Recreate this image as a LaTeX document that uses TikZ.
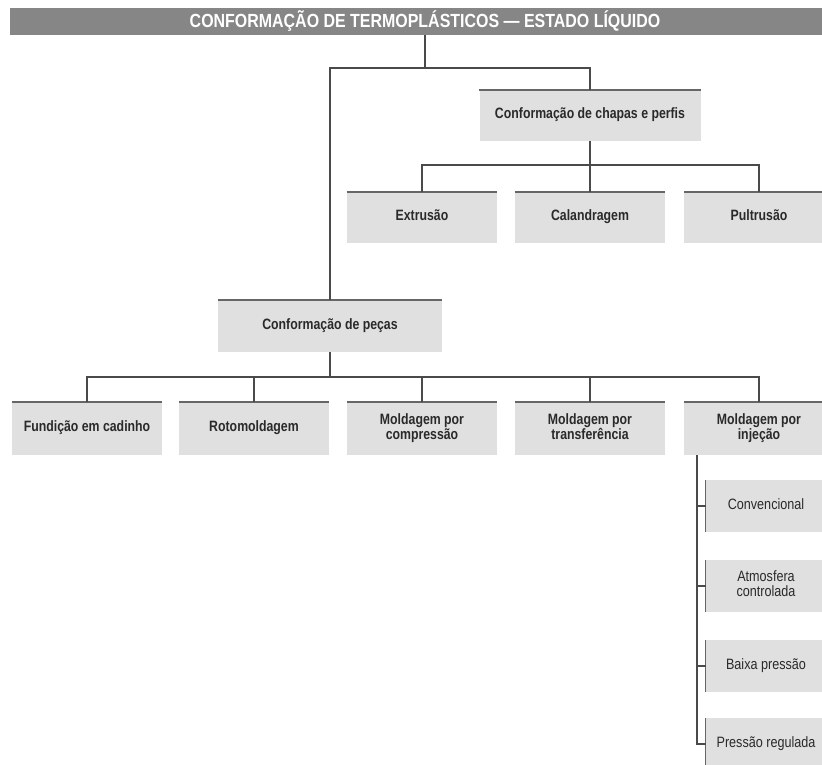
\documentclass[tikz,border=0pt]{standalone}
\usepackage{fontspec}
\setmainfont{Liberation Sans}
\newfontfamily\cond{Liberation Sans}[FakeStretch=0.82]
\newfontfamily\condr{Liberation Sans}[FakeStretch=0.84]
\newfontfamily\condt{Liberation Sans}[FakeStretch=0.84]
\definecolor{boxfill}{HTML}{E0E0E0}
\definecolor{titlefill}{HTML}{868686}
\definecolor{edgec}{HTML}{666666}
\definecolor{linec}{HTML}{4A4A4A}
\definecolor{txtc}{HTML}{2A2A2A}
\tikzset{
  box/.style={fill=boxfill, draw=none, minimum width=150pt, minimum height=52pt,
    inner sep=2pt, align=center, text=txtc,
    font=\cond\bfseries\fontsize{15}{15}\selectfont,
    execute at begin node=\strut, execute at end node=\strut},
  subbox/.style={fill=boxfill, draw=none, minimum width=120pt, minimum height=52pt,
    inner sep=2pt, align=center, text=txtc,
    font=\condr\fontsize{15}{15}\selectfont,
    execute at begin node=\strut, execute at end node=\strut},
  topline/.style={draw=edgec, line width=1.6pt},
  leftline/.style={draw=edgec, line width=1.2pt},
  conn/.style={draw=linec, line width=1.1pt},
}
\begin{document}
\begin{tikzpicture}[x=1pt,y=-1pt]
\useasboundingbox (0,0) rectangle (822,765);
\clip (0,0) rectangle (822,765);
\fill[white] (0,0) rectangle (822,765);

% title
\node[fill=titlefill, minimum width=830pt, minimum height=27pt, inner sep=0pt,
  text=white, font=\condt\bfseries\fontsize{19}{19}\selectfont] (title) at (425,21.5)
  {CONFORMAÇÃO DE TERMOPLÁSTICOS — ESTADO LÍQUIDO};

% level 1
\node[box, minimum width=221pt, minimum height=51pt] (chapas) at (590,115.5) {Conformação de chapas e perfis};
\node[box, minimum width=224pt] (pecas) at (330,326) {Conformação de peças};

% chapas children
\node[box, minimum height=51pt] (extr) at (422,217.5) {Extrusão};
\node[box, minimum height=51pt] (cal) at (590,217.5) {Calandragem};
\node[box, minimum height=51pt] (pult) at (759,217.5) {Pultrusão};

% pecas children
\node[box, minimum height=53pt] (fund) at (87,428.5) {Fundição em cadinho};
\node[box, minimum height=53pt] (roto) at (254,428.5) {Rotomoldagem};
\node[box, minimum height=53pt] (comp) at (422,428.5) {Moldagem por\\compressão};
\node[box, minimum height=53pt] (trans) at (590,428.5) {Moldagem por\\transferência};
\node[box, minimum height=53pt] (inj) at (759,428.5) {Moldagem por\\injeção};

% injection sub-boxes
\node[subbox] (s1) at (766,506) {Convencional};
\node[subbox] (s2) at (766,586) {Atmosfera\\controlada};
\node[subbox] (s3) at (766,666) {Baixa pressão};
\node[subbox] (s4) at (766,744) {Pressão regulada};

% box top edges
\foreach \n in {chapas,pecas,extr,cal,pult,fund,roto,comp,trans,inj}
  \draw[topline] (\n.north west) -- (\n.north east);
\foreach \n in {s1,s2,s3,s4}
  \draw[leftline] (\n.north west) -- (\n.south west);

% connectors
\coordinate (hubT) at (425,68);
\draw[conn] (title.south -| hubT) -- (hubT);
\draw[conn] (pecas.north) -- (pecas.north |- hubT) -- (chapas.north |- hubT) -- (chapas.north);

\coordinate (hubC) at (590,165);
\draw[conn] (chapas.south) -- (hubC);
\draw[conn] (extr.north) -- (extr.north |- hubC) -- (pult.north |- hubC) -- (pult.north);
\draw[conn] (cal.north) -- (cal.north |- hubC);

\coordinate (hubP) at (330,377);
\draw[conn] (pecas.south) -- (hubP);
\draw[conn] (fund.north) -- (fund.north |- hubP) -- (inj.north |- hubP) -- (inj.north);
\draw[conn] (roto.north) -- (roto.north |- hubP);
\draw[conn] (comp.north) -- (comp.north |- hubP);
\draw[conn] (trans.north) -- (trans.north |- hubP);

\coordinate (sx) at (697,0);
\draw[conn] (inj.south -| sx) |- (s4.west);
\draw[conn] (s1.west) -- (s1.west -| sx);
\draw[conn] (s2.west) -- (s2.west -| sx);
\draw[conn] (s3.west) -- (s3.west -| sx);
\end{tikzpicture}
\end{document}
